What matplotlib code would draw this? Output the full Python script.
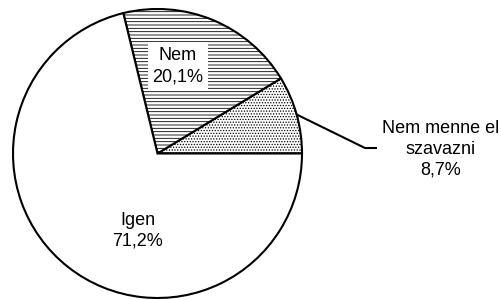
import numpy as np
import matplotlib
matplotlib.use("Agg")
import matplotlib.pyplot as plt

# data
labels = ["Nem menne el\nszavazni", "Nem", "Igen"]
values = [8.7, 20.1, 71.2]
hatches = ["......", "-----", None]

plt.rcParams["font.family"] = ["Liberation Sans", "DejaVu Sans"]
plt.rcParams["hatch.linewidth"] = 0.6

fig = plt.figure(figsize=(5.02, 3.0), dpi=100)
cx, cy, r = 157.5, 153.5, 144.5
ax = fig.add_axes([(cx - r) / 502, (300 - cy - r) / 300, 2 * r / 502, 2 * r / 300])

wedges, _ = ax.pie(values, startangle=0, counterclock=True, colors=["white"] * 3,
                   wedgeprops=dict(edgecolor="black", linewidth=1.5))
for w, h in zip(wedges, hatches):
    w.set_clip_on(False)
    if h:
        w.set_hatch(h)
ax.set_xlim(-1, 1)
ax.set_ylim(-1, 1)
ax.axis("off")

def fmt(v):
    return f"{v:.1f}%".replace(".", ",")

fs = 13
# Nem label with white box
ax.text(0.142, 0.605, f"{labels[1]}\n{fmt(values[1])}", ha="center", va="center",
        fontsize=fs, linespacing=1.3,
        bbox=dict(facecolor="white", edgecolor="none", pad=3.5))
# Igen label
ax.text(-0.135, -0.535, f"{labels[2]}\n{fmt(values[2])}", ha="center", va="center",
        fontsize=fs, linespacing=1.3)

# outside label with leader line
mid = np.deg2rad(values[0] / 100 * 360 / 2)
ax.plot([np.cos(mid), 1.436, 1.519], [np.sin(mid), 0.038, 0.038],
        color="black", linewidth=1.5, clip_on=False, solid_capstyle="butt")
ax.text(1.962, 0.03, f"{labels[0]}\n{fmt(values[0])}", ha="center", va="center",
        fontsize=fs, linespacing=1.3)

fig.savefig("out.png", dpi=100)
